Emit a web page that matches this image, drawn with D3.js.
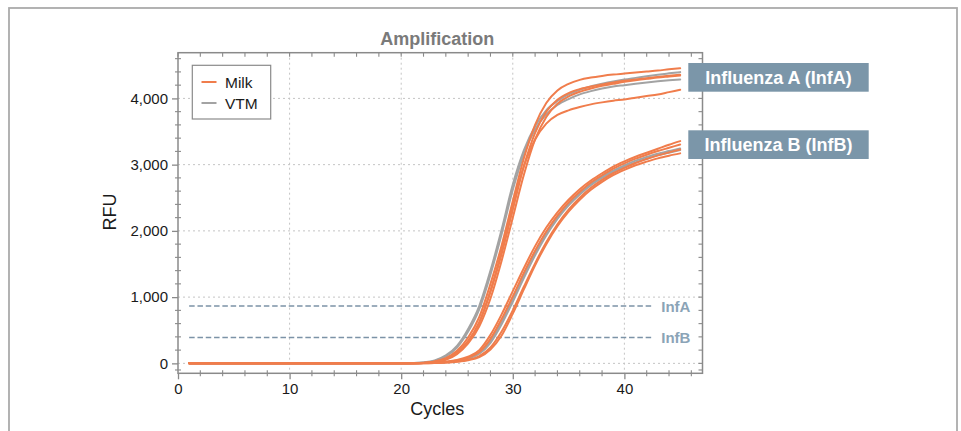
<!DOCTYPE html>
<html>
<head>
<meta charset="utf-8">
<script src="https://cdn.jsdelivr.net/npm/d3@7"></script>
<style>
  html, body { margin: 0; padding: 0; background: #fff; }
  svg { display: block; font-family: "Liberation Sans", Arial, Helvetica, sans-serif; }
</style>
</head>
<body>
<svg id="chart" width="961" height="431"></svg>
<script>
// ---------------- DATA ----------------
const cycles = [1,2,3,4,5,6,7,8,9,10,11,12,13,14,15,16,17,18,19,20,21,22,23,24,25,26,27,28,29,30,31,32,33,34,35,36,37,38,39,40,41,42,43,44,45];

// Influenza A (InfA) – VTM (gray)
const infA_vtm1 = [0,0,0,0,0,0,0,0,0,0,0,0,0,0,0,0,0,0,0, 2,5,15,45,120,265,520,870,1400,2020,2700,3220,3580,3820,3960,4060,4130,4180,4220,4255,4285,4310,4335,4358,4378,4397];
const infA_vtm2 = [0,0,0,0,0,0,0,0,0,0,0,0,0,0,0,0,0,0,0, 1,4,12,38,105,240,480,820,1340,1950,2620,3160,3530,3760,3900,3990,4060,4110,4150,4180,4200,4220,4240,4258,4273,4287];
// Influenza A (InfA) – Milk (orange)
const infA_milk1 = [0,0,0,0,0,0,0,0,0,0,0,0,0,0,0,0,0,0,0, 1,3,8,30,80,190,390,700,1200,1780,2450,3100,3600,3930,4120,4220,4280,4315,4340,4360,4375,4390,4405,4420,4440,4457];
const infA_milk2 = [0,0,0,0,0,0,0,0,0,0,0,0,0,0,0,0,0,0,0, 1,2,6,25,70,165,340,620,1080,1650,2320,2980,3480,3800,3980,4080,4140,4180,4210,4240,4265,4285,4305,4325,4342,4357];
const infA_milk3 = [0,0,0,0,0,0,0,0,0,0,0,0,0,0,0,0,0,0,0, 0,2,5,20,55,140,300,560,980,1550,2200,2850,3380,3720,3920,4030,4100,4150,4190,4220,4250,4275,4295,4315,4330,4345];
const infA_milk4 = [0,0,0,0,0,0,0,0,0,0,0,0,0,0,0,0,0,0,0, 1,2,6,25,65,160,330,620,1100,1700,2400,2980,3380,3620,3750,3820,3870,3910,3940,3965,3985,4010,4035,4060,4095,4130];

// Influenza B (InfB) – VTM (gray)
const infB_vtm1 = [0,0,0,0,0,0,0,0,0,0,0,0,0,0,0,0,0,0,0, 1,2,5,10,20,40,80,160,340,630,970,1330,1670,1960,2210,2410,2570,2710,2820,2910,2990,3060,3115,3165,3205,3245];
const infB_vtm2 = [0,0,0,0,0,0,0,0,0,0,0,0,0,0,0,0,0,0,0, 1,2,4,9,18,36,72,145,310,590,930,1290,1630,1930,2180,2385,2550,2690,2800,2890,2970,3035,3090,3140,3180,3220];
// Influenza B (InfB) – Milk (orange)
const infB_milk1 = [0,0,0,0,0,0,0,0,0,0,0,0,0,0,0,0,0,0,0, 1,3,6,12,25,50,100,200,430,740,1090,1440,1770,2050,2280,2470,2630,2760,2870,2970,3050,3120,3180,3240,3300,3355];
const infB_milk2 = [0,0,0,0,0,0,0,0,0,0,0,0,0,0,0,0,0,0,0, 1,2,5,10,20,42,85,170,370,670,1010,1370,1700,1990,2230,2430,2590,2730,2840,2940,3020,3090,3150,3205,3255,3305];
const infB_milk3 = [0,0,0,0,0,0,0,0,0,0,0,0,0,0,0,0,0,0,0, 1,2,3,7,14,28,55,110,240,480,800,1160,1510,1830,2100,2320,2500,2650,2770,2870,2950,3025,3085,3140,3185,3230];
const infB_milk4 = [0,0,0,0,0,0,0,0,0,0,0,0,0,0,0,0,0,0,0, 0,1,3,6,12,24,48,95,210,420,750,1120,1480,1800,2070,2290,2470,2620,2740,2840,2920,2990,3045,3095,3135,3170];

const vtmSeries  = [infA_vtm1, infA_vtm2, infB_vtm1, infB_vtm2];
const milkSeries = [infA_milk1, infA_milk2, infA_milk3, infA_milk4, infB_milk1, infB_milk2, infB_milk3, infB_milk4];

const thresholdNames  = ["InfA", "InfB"];
const thresholdValues = [865, 390];
const thresholdRange  = [1, 42.5];

const legendLabels = ["Milk", "VTM"];
const targetLabels = ["Influenza A (InfA)", "Influenza B (InfB)"];

const xTicks = [0, 10, 20, 30, 40];
const yTicks = [0, 1000, 2000, 3000, 4000];
const xMinor = [2,4,6,8,12,14,16,18,22,24,26,28,32,34,36,38,42,44,46];
const yMinor = [-100,200,400,600,800,1200,1400,1600,1800,2200,2400,2600,2800,3200,3400,3600,3800,4200,4400,4600];

// ---------------- STYLE ----------------
const ORANGE = "#f07d4c";
const GRAY = "#a3a3a3";
const AXIS = "#8a8a8a";
const THR = "#7c93a7";
const THR_TXT = "#8ba4b7";
const BOX = "#7b96a9";

const svg = d3.select("#chart");
const L = 178, R = 702.5, T = 52.7, B = 373.3;

const x = d3.scaleLinear().domain([0, 47]).range([L, R]);
const y = d3.scaleLinear().domain([-150, 4690]).range([B, T]);

// outer frame
svg.append("rect").attr("x", 9).attr("y", 8).attr("width", 948).attr("height", 440)
  .attr("fill", "none").attr("stroke", "#ababab").attr("stroke-width", 1.8);

// title
svg.append("text").attr("x", (L + R) / 2 - 3).attr("y", 45).attr("text-anchor", "middle")
  .attr("font-size", 18).attr("font-weight", "bold").attr("fill", "#7a7a7a").text("Amplification");

// grid
const grid = svg.append("g");
grid.selectAll(".gx").data(xTicks.filter(d => d > 0)).enter().append("line")
  .attr("x1", d => x(d)).attr("x2", d => x(d)).attr("y1", T).attr("y2", B)
  .attr("stroke", "#c4c4c4").attr("stroke-width", 1).attr("stroke-dasharray", "2,3");
grid.selectAll(".gy").data(yTicks).enter().append("line")
  .attr("x1", L).attr("x2", R).attr("y1", d => y(d)).attr("y2", d => y(d))
  .attr("stroke", "#c4c4c4").attr("stroke-width", 1).attr("stroke-dasharray", "2,3");

// axes via d3
const xAxis = svg.append("g").attr("transform", `translate(0,${B})`)
  .call(d3.axisBottom(x).tickValues(xTicks).tickSize(6).tickPadding(4).tickFormat(d3.format("d")));
const yAxis = svg.append("g").attr("transform", `translate(${L},0)`)
  .call(d3.axisLeft(y).tickValues(yTicks).tickSize(6).tickPadding(4).tickFormat(d3.format(",")));
[xAxis, yAxis].forEach(a => {
  a.select(".domain").remove();
  a.selectAll(".tick line").attr("stroke", AXIS).attr("stroke-width", 1.3);
  a.selectAll(".tick text").attr("font-size", 15).attr("fill", "#1a1a1a")
    .attr("font-family", "'Liberation Sans', Arial, sans-serif");
});

// minor ticks
const minor = svg.append("g").attr("stroke", AXIS).attr("stroke-width", 1.1);
minor.selectAll(".mb").data(xMinor).enter().append("line")
  .attr("x1", d => x(d)).attr("x2", d => x(d)).attr("y1", B - 3).attr("y2", B + 3);
minor.selectAll(".mt").data(xMinor.concat(xTicks)).enter().append("line")
  .attr("x1", d => x(d)).attr("x2", d => x(d)).attr("y1", T).attr("y2", T + 4);
minor.selectAll(".ml").data(yMinor).enter().append("line")
  .attr("x1", L - 3).attr("x2", L + 3).attr("y1", d => y(d)).attr("y2", d => y(d));
minor.selectAll(".mr").data(yMinor.concat(yTicks)).enter().append("line")
  .attr("x1", R - 4).attr("x2", R).attr("y1", d => y(d)).attr("y2", d => y(d));

// plot border
svg.append("rect").attr("x", L).attr("y", T).attr("width", R - L).attr("height", B - T)
  .attr("fill", "none").attr("stroke", AXIS).attr("stroke-width", 1.5);

// axis titles
svg.append("text").attr("x", (L + R) / 2 - 3).attr("y", 415).attr("text-anchor", "middle")
  .attr("font-size", 18).attr("fill", "#1a1a1a").text("Cycles");
svg.append("text").attr("transform", `translate(116,${(T + B) / 2 - 1}) rotate(-90)`)
  .attr("text-anchor", "middle").attr("font-size", 18).attr("fill", "#1a1a1a").text("RFU");

// threshold lines
const thr = svg.append("g");
thresholdValues.forEach((v, i) => {
  thr.append("line").attr("x1", x(thresholdRange[0])).attr("x2", x(thresholdRange[1]))
    .attr("y1", y(v)).attr("y2", y(v))
    .attr("stroke", THR).attr("stroke-width", 1.6).attr("stroke-dasharray", "5.5,2.8");
  thr.append("text").attr("x", x(thresholdRange[1]) + 9).attr("y", y(v) + 5.5)
    .attr("font-size", 15).attr("font-weight", "bold").attr("fill", THR_TXT).text(thresholdNames[i]);
});

// curves
const line = d3.line().x((d, i) => x(cycles[i])).y(d => y(d)).curve(d3.curveMonotoneX);
const curves = svg.append("g").attr("fill", "none").attr("stroke-width", 2)
  .attr("stroke-linejoin", "round").attr("stroke-linecap", "round");
curves.selectAll(".vtm").data(vtmSeries).enter().append("path")
  .attr("d", line).attr("stroke", GRAY);
curves.selectAll(".milk").data(milkSeries).enter().append("path")
  .attr("d", line).attr("stroke", ORANGE);

// legend
const lg = svg.append("g");
lg.append("rect").attr("x", 192.3).attr("y", 65.3).attr("width", 78.4).attr("height", 53.7)
  .attr("fill", "#fff").attr("stroke", "#8a8a8a").attr("stroke-width", 1.2);
[ORANGE, GRAY].forEach((c, i) => {
  const yy = 82 + i * 21;
  lg.append("line").attr("x1", 201.5).attr("x2", 216.5).attr("y1", yy).attr("y2", yy)
    .attr("stroke", c).attr("stroke-width", 2);
  lg.append("text").attr("x", 225).attr("y", yy + 5.5).attr("font-size", 15.5)
    .attr("fill", "#1a1a1a").text(legendLabels[i]);
});

// target labels
const boxY = [63, 130.3];
targetLabels.forEach((t, i) => {
  svg.append("rect").attr("x", 688.3).attr("y", boxY[i]).attr("width", 180.4).attr("height", 28.7)
    .attr("fill", BOX);
  svg.append("text").attr("x", 778.5).attr("y", boxY[i] + 20.8).attr("text-anchor", "middle")
    .attr("font-size", 18).attr("font-weight", "bold").attr("fill", "#fff").text(t);
});
</script>
</body>
</html>
